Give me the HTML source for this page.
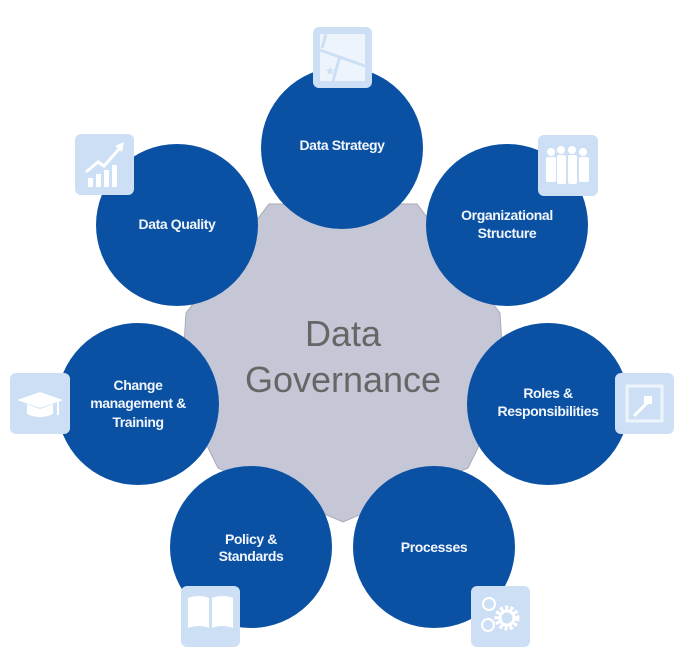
<!DOCTYPE html>
<html><head><meta charset="utf-8"><style>
html,body{margin:0;padding:0;background:#fff;}
svg{display:block;}
.t{font-family:"Liberation Sans",Arial,sans-serif;font-weight:bold;font-size:14px;fill:#f2f6fc;text-anchor:middle;letter-spacing:-0.4px;}
.ic{fill:#cddff4;}
.w{fill:#fff;}
.ws{stroke:#fff;fill:none;stroke-width:2;}
</style></head><body>
<svg width="683" height="654" viewBox="0 0 683 654" xmlns="http://www.w3.org/2000/svg">
<polygon points="343,185 416.8,201.8 476,249.1 508.8,317.3 508.8,392.9 476,461 416.8,508.2 343,525 269.2,508.2 210,461 177.2,392.9 177.2,317.3 210,249.1 269.2,201.8" fill="none"/>
<polygon points="269,204 417,204 500,313 505,393 468,468 343,522 218,468 181,393 186,313" fill="#c6c7d6" stroke="#a9aab8" stroke-width="1"/>
<text x="343" y="346" font-family="Liberation Sans,Arial,sans-serif" font-size="36" fill="#666" text-anchor="middle">Data</text>
<text x="343" y="392" font-family="Liberation Sans,Arial,sans-serif" font-size="36" fill="#666" text-anchor="middle">Governance</text>
<g fill="#0a51a4">
<circle cx="342" cy="148" r="81"/>
<circle cx="507" cy="225" r="81"/>
<circle cx="548" cy="404" r="81"/>
<circle cx="434" cy="547" r="81"/>
<circle cx="251" cy="547" r="81"/>
<circle cx="138" cy="404" r="81"/>
<circle cx="177" cy="225" r="81"/>
</g>
<text class="t" x="342" y="150">Data Strategy</text>
<text class="t" x="507" y="220">Organizational</text>
<text class="t" x="507" y="238">Structure</text>
<text class="t" x="548" y="398">Roles &amp;</text>
<text class="t" x="548" y="416">Responsibilities</text>
<text class="t" x="434" y="552">Processes</text>
<text class="t" x="251" y="544">Policy &amp;</text>
<text class="t" x="251" y="561">Standards</text>
<text class="t" x="138" y="390">Change</text>
<text class="t" x="138" y="408">management &amp;</text>
<text class="t" x="138" y="427">Training</text>
<text class="t" x="177" y="229">Data Quality</text>
<!-- icons -->
<rect class="ic" x="313" y="27" width="59" height="61" rx="6"/>
<rect x="320" y="34" width="45" height="47" fill="#eef4fb"/>
<path d="M320,50 L365,66 M326,34 L322,48 M340,56 L333,81" stroke="#cddff4" stroke-width="3" fill="none"/>
<text x="330" y="75" font-size="12" fill="#cddff4" text-anchor="middle">★</text>
<rect class="ic" x="538" y="135" width="60" height="61" rx="6"/>
<g class="w"><circle cx="551" cy="152" r="4"/><circle cx="561" cy="150" r="4"/><circle cx="572" cy="150" r="4"/><circle cx="583" cy="152" r="4"/>
<rect x="546" y="157" width="10" height="25" rx="2"/><rect x="557" y="155" width="9" height="29" rx="2"/><rect x="568" y="155" width="9" height="29" rx="2"/><rect x="579" y="157" width="10" height="25" rx="2"/></g>
<rect class="ic" x="615" y="373" width="59" height="61" rx="6"/>
<rect x="627" y="386" width="35" height="35" fill="none" stroke="#eef4fb" stroke-width="3"/>
<path d="M634,416 L648,402" stroke="#fff" stroke-width="3"/><rect x="644" y="396" width="8" height="8" fill="#fff"/>
<rect class="ic" x="471" y="586" width="59" height="61" rx="6"/>
<circle cx="489" cy="604" r="6" class="ws" stroke-width="3"/><circle cx="488" cy="625" r="6" class="ws" stroke-width="3"/>
<circle cx="507" cy="618" r="10" fill="none" stroke="#fff" stroke-width="5" stroke-dasharray="3 2"/><circle cx="507" cy="618" r="7" fill="none" stroke="#fff" stroke-width="3"/>
<rect class="ic" x="181" y="586" width="59" height="61" rx="6"/>
<path d="M188,598 Q199,594 209,598 L209,628 Q199,624 188,628 Z M212,598 Q222,594 233,598 L233,628 Q222,624 212,628 Z" fill="#fff"/>
<rect class="ic" x="10" y="373" width="60" height="61" rx="6"/>
<polygon points="17,400 40,392 63,400 40,408" fill="#fff"/><path d="M27,404 L27,414 Q40,420 53,414 L53,404 L40,409 Z" fill="#fff"/><rect x="57" y="401" width="2" height="14" fill="#fff"/>
<rect class="ic" x="75" y="134" width="59" height="61" rx="6"/>
<g class="w"><rect x="88" y="178" width="5" height="9"/><rect x="96" y="174" width="5" height="13"/><rect x="104" y="170" width="5" height="17"/><rect x="112" y="165" width="5" height="22"/></g>
<path d="M86,172 L98,162 L104,166 L120,148" stroke="#fff" stroke-width="3" fill="none"/><polygon points="115,146 124,142 122,152" fill="#fff"/>
</svg>
</body></html>
